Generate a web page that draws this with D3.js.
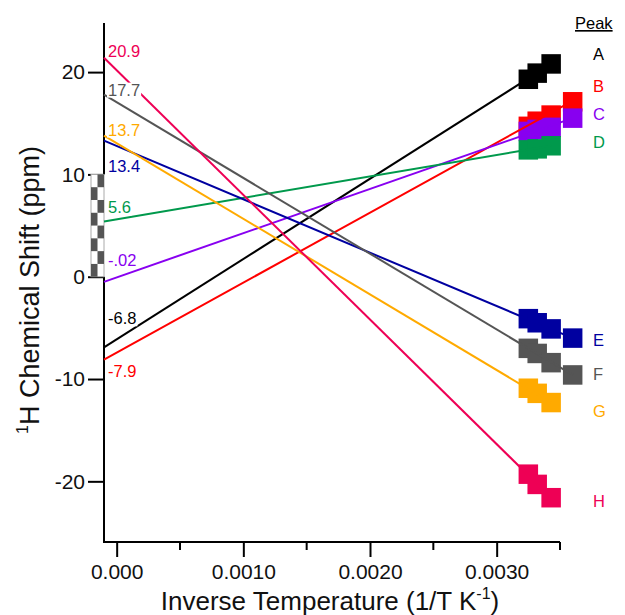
<!DOCTYPE html>
<html>
<head>
<meta charset="utf-8">
<script src="https://cdn.jsdelivr.net/npm/d3@7"></script>
<style>
  body { margin: 0; background: #fff; }
  svg text { font-family: "Liberation Sans", Arial, sans-serif; }
</style>
</head>
<body>
<script>
// peaks and their colours
var peaks = ["A", "B", "C", "D", "E", "F", "G", "H"];
var colors = ["#000000", "#ff0000", "#8800f0", "#00994c", "#0000a0", "#555555", "#ffaa00", "#ee0055"];

// inverse temperature of each measurement (1/T, K^-1)
var invTemp = [0.00325, 0.00332, 0.00343, 0.0036];

// 1H chemical shifts (ppm), one value per temperature
var shiftA = [19.3, 19.9, 20.8];
var shiftB = [14.7, 15.2, 15.8, 17.1];
var shiftC = [14.2, 14.4, 14.6, 15.5];
var shiftD = [12.4, 12.5, 12.8];
var shiftE = [-4.1, -4.5, -5.1, -6.0];
var shiftF = [-7.0, -7.5, -8.4, -9.6];
var shiftG = [-10.9, -11.4, -12.3];
var shiftH = [-19.3, -20.3, -21.6];
var shifts = [shiftA, shiftB, shiftC, shiftD, shiftE, shiftF, shiftG, shiftH];

// fit lines: value at left end of the axis and at the last point
var fitStart = [-6.9, -8.1, -0.5, 5.4, 13.3, 17.8, 13.8, 21.4];
var fitEnd = [20.8, 17.2, 15.5, 12.8, -6.0, -9.6, -12.3, -21.6];

// intercepts written next to the y axis
var interceptText = ["-6.8", "-7.9", "-.02", "5.6", "13.4", "17.7", "13.7", "20.9"];
var interceptValue = [-6.8, -7.9, -0.02, 5.6, 13.4, 17.7, 13.7, 20.9];

var xTicks = [0, 0.001, 0.002, 0.003];
var xMinorTicks = [0.0005, 0.0015, 0.0025, 0.0035];
var yTicks = [-20, -10, 0, 10, 20];

var width = 625, height = 615;

var svg = d3.select("body").append("svg")
    .attr("width", width)
    .attr("height", height);

var x = d3.scaleLinear().domain([-0.0001, 0.0035]).range([104, 560]);
var y = d3.scaleLinear().domain([-25.93, 24.8]).range([542, 23]);

// x axis, major and minor ticks
var xAxis = d3.axisBottom(x)
    .tickValues(xTicks)
    .tickSize(15)
    .tickSizeOuter(0)
    .tickPadding(7)
    .tickFormat(function(d) { return d === 0 ? "0.000" : d3.format(".4f")(d); });

var gx = svg.append("g")
    .attr("transform", "translate(0," + y.range()[0] + ")")
    .call(xAxis);
gx.select(".domain").attr("stroke-width", 2).attr("d", "M" + x.range()[0] + ",0H" + x.range()[1]);
gx.selectAll(".tick line").attr("stroke-width", 2);
gx.selectAll("text").style("font-size", "21px").attr("fill", "#111");

svg.append("g")
    .selectAll("line")
    .data(xMinorTicks)
    .enter()
    .append("line")
    .attr("x1", function(d) { return x(d); })
    .attr("x2", function(d) { return x(d); })
    .attr("y1", y.range()[0])
    .attr("y2", y.range()[0] + 8)
    .attr("stroke", "#000")
    .attr("stroke-width", 2);

// y axis
var yAxis = d3.axisLeft(y)
    .tickValues(yTicks)
    .tickSize(16)
    .tickSizeOuter(0)
    .tickPadding(3)
    .tickFormat(function(d) { return String(d); });

var gy = svg.append("g")
    .attr("transform", "translate(" + x.range()[0] + ",0)")
    .call(yAxis);
gy.select(".domain").remove();
gy.selectAll(".tick line").attr("stroke-width", 2);
gy.selectAll("text").style("font-size", "21px").attr("fill", "#111");

// axis line with a break between 0 and 10
var axX = x.range()[0];
svg.append("line")
    .attr("x1", axX).attr("x2", axX)
    .attr("y1", y.range()[1]).attr("y2", y(10))
    .attr("stroke", "#000").attr("stroke-width", 2);
svg.append("line")
    .attr("x1", axX).attr("x2", axX)
    .attr("y1", y(0)).attr("y2", y.range()[0] + 1)
    .attr("stroke", "#000").attr("stroke-width", 2);

var breakTop = y(10), breakBot = y(0);
var brk = svg.append("g");
brk.append("rect")
    .attr("x", axX - 13).attr("y", breakTop)
    .attr("width", 13).attr("height", breakBot - breakTop)
    .attr("fill", "#fff").attr("stroke", "#aaa").attr("stroke-width", 1);
var nSeg = 8, seg = (breakBot - breakTop) / nSeg;
for (var s = 0; s < nSeg; s++) {
  brk.append("rect")
    .attr("x", s % 2 ? axX - 13 : axX - 6.5)
    .attr("y", breakTop + s * seg)
    .attr("width", 6.5)
    .attr("height", seg)
    .attr("fill", "#555");
}

// squares (drawn first, fit lines go on top)
var size = 19.5;
shifts.forEach(function(vals, i) {
  svg.append("g")
    .selectAll("rect")
    .data(vals)
    .enter()
    .append("rect")
    .attr("x", function(d, j) { return x(invTemp[j]) - size / 2; })
    .attr("y", function(d) { return y(d) - size / 2; })
    .attr("width", size)
    .attr("height", size)
    .attr("fill", colors[i]);
});

// fit lines
peaks.forEach(function(p, i) {
  var last = invTemp[shifts[i].length - 1];
  svg.append("line")
    .attr("x1", x(x.domain()[0]))
    .attr("y1", y(fitStart[i]))
    .attr("x2", x(last))
    .attr("y2", y(fitEnd[i]))
    .attr("stroke", colors[i])
    .attr("stroke-width", 2);
});

// intercept labels, white box behind them
var labelDy = [-22, 19, -11, -6, 32, 0, -1, -6];
peaks.forEach(function(p, i) {
  var g = svg.append("g");
  var t = g.append("text")
    .attr("x", axX + 4)
    .attr("y", y(interceptValue[i]) + labelDy[i])
    .style("font-size", "16.5px")
    .attr("fill", colors[i])
    .text(interceptText[i]);
  var bb = t.node().getBBox();
  g.insert("rect", "text")
    .attr("x", bb.x - 1).attr("y", bb.y + 2)
    .attr("width", bb.width + 2).attr("height", bb.height - 3)
    .attr("fill", "#fff");
});

// legend
svg.append("text")
    .attr("x", 575)
    .attr("y", 29)
    .style("font-size", "16.5px")
    .style("text-decoration", "underline")
    .attr("fill", "#000")
    .text("Peak");

var legendDy = [-4, -10, 2, 2, 8, 5, 14, 9];
peaks.forEach(function(p, i) {
  var vals = shifts[i];
  svg.append("text")
    .attr("x", 593)
    .attr("y", y(vals[vals.length - 1]) + legendDy[i])
    .style("font-size", "16.5px")
    .attr("fill", colors[i])
    .text(p);
});

// axis titles
var xt = svg.append("text")
    .attr("x", 330)
    .attr("y", 610)
    .attr("text-anchor", "middle")
    .style("font-size", "26px")
    .attr("fill", "#111");
xt.append("tspan").text("Inverse Temperature (1/T K");
xt.append("tspan").attr("dy", -11).style("font-size", "16px").text("-1");
xt.append("tspan").attr("dy", 11).text(")");

var yt = svg.append("text")
    .attr("transform", "translate(39,290) rotate(-90)")
    .attr("text-anchor", "middle")
    .style("font-size", "27px")
    .attr("fill", "#111");
yt.append("tspan").attr("dy", -11).style("font-size", "16px").text("1");
yt.append("tspan").attr("dy", 11).text("H Chemical Shift (ppm)");
</script>
</body>
</html>
